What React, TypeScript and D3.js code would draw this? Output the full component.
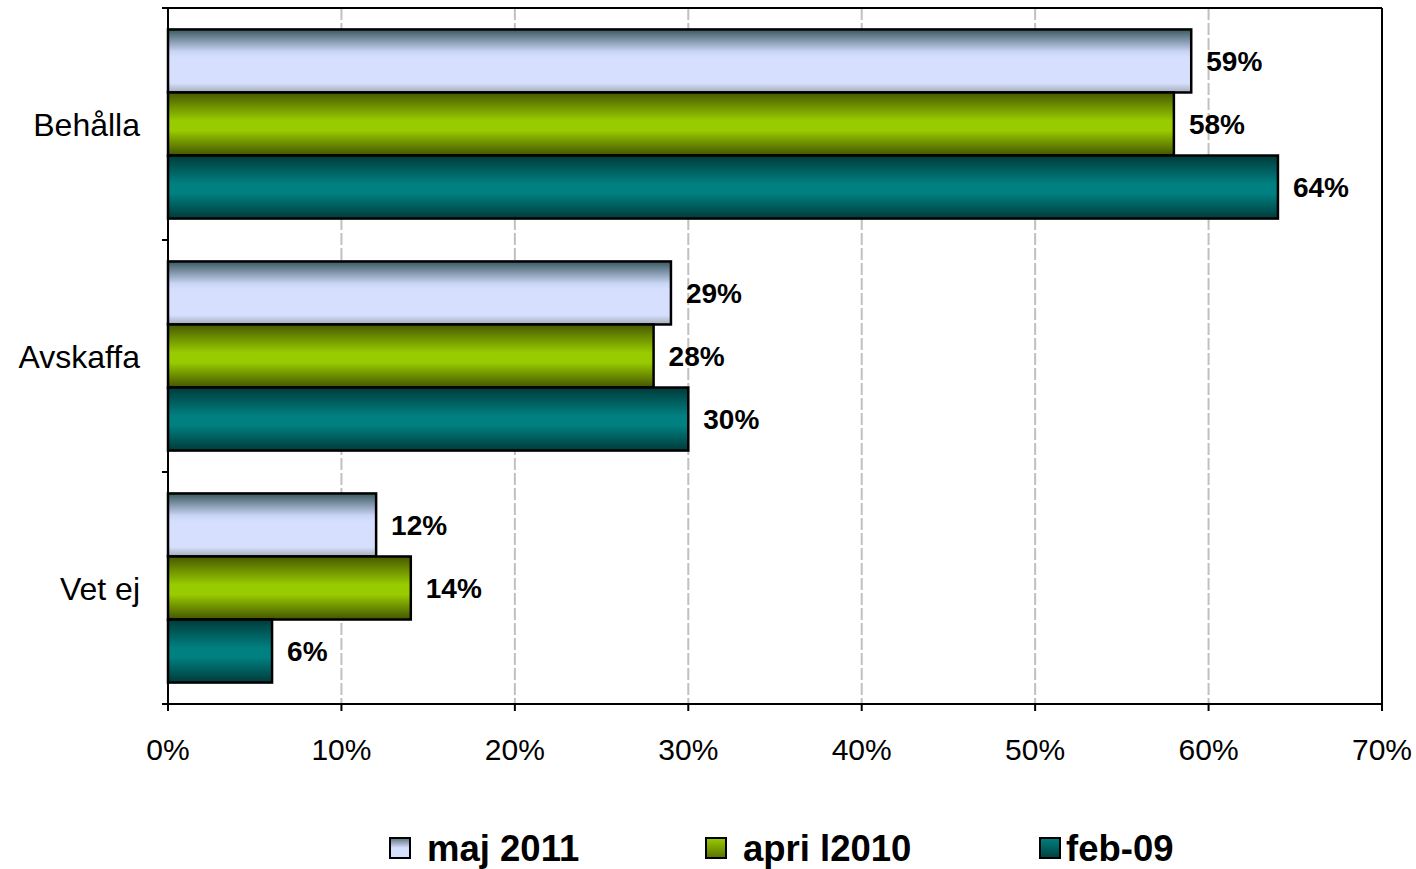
import React from 'react'
import * as d3 from 'd3'

const categories = ['Behålla', 'Avskaffa', 'Vet ej']
const seriesNames = ['maj 2011', 'apri l2010', 'feb-09']
const maj2011 = [59, 29, 12]
const apri2010 = [58, 28, 14]
const feb09 = [64, 30, 6]
const xTicks = [0, 10, 20, 30, 40, 50, 60, 70]

const seriesValues = [maj2011, apri2010, feb09]

const gradients = [
  { id: 'g0', stops: [['0%', '#3a5860'], ['35%', '#c8d4f4'], ['45%', '#d6e0fe'], ['85%', '#d6e0fe'], ['100%', '#a4acb8']] },
  { id: 'g1', stops: [['0%', '#465800'], ['45%', '#99cc00'], ['60%', '#99cc00'], ['100%', '#435400']] },
  { id: 'g2', stops: [['0%', '#003a3a'], ['45%', '#008080'], ['60%', '#008080'], ['100%', '#003a3a']] },
]
const swatchGradients = [
  { id: 's0', stops: [['0%', '#5a7080'], ['50%', '#d6e0fe'], ['100%', '#d6e0fe']] },
  { id: 's1', stops: [['0%', '#99cc00'], ['100%', '#5a7000']] },
  { id: 's2', stops: [['0%', '#008080'], ['100%', '#004040']] },
]

const font = 'Liberation Sans, Arial, sans-serif'

export default function App() {
  const width = 1416
  const height = 869
  const left = 168
  const right = 1382
  const top = 8
  const bottom = 704

  const x = d3.scaleLinear().domain([0, 70]).range([left, right])
  const y = d3.scaleBand().domain(categories).range([top, bottom]).padding(0)
  const inner = d3.scaleBand().domain(seriesNames).range([0, y.bandwidth()]).paddingInner(0).paddingOuter(0.34)

  const legendX = [390, 706, 1040]

  return (
    <div style={{ position: 'absolute', left: 0, top: 0 }}>
      <svg width={width} height={height} style={{ display: 'block', background: '#fff' }}>
        <defs>
          {gradients.concat(swatchGradients).map((g) => (
            <linearGradient key={g.id} id={g.id} x1="0" y1="0" x2="0" y2="1">
              {g.stops.map(([o, c], i) => (
                <stop key={i} offset={o} stopColor={c} />
              ))}
            </linearGradient>
          ))}
        </defs>

        {/* gridlines */}
        {xTicks.slice(1, -1).map((t) => (
          <line key={t} x1={x(t)} x2={x(t)} y1={top} y2={bottom} stroke="#c0c0c0" strokeWidth={2} strokeDasharray="12 3" />
        ))}

        {/* frame */}
        <line x1={left} x2={right} y1={top} y2={top} stroke="#000" strokeWidth={2} />
        <line x1={right} x2={right} y1={top} y2={bottom} stroke="#000" strokeWidth={2} />

        {/* bars */}
        {categories.map((cat, ci) =>
          seriesNames.map((s, si) => {
            const v = seriesValues[si][ci]
            const by = (y(cat) || 0) + (inner(s) || 0)
            const bh = inner.bandwidth()
            return (
              <g key={cat + s}>
                <rect x={x(0)} y={by} width={x(v) - x(0)} height={bh} fill={`url(#g${si})`} stroke="#000" strokeWidth={2.5} />
                <text x={x(v) + 15} y={by + bh / 2} dy="0.36em" fontFamily={font} fontWeight="bold" fontSize={28} fill="#000">
                  {v}%
                </text>
              </g>
            )
          })
        )}

        {/* axes */}
        <line x1={left} x2={left} y1={top} y2={bottom} stroke="#000" strokeWidth={2} />
        <line x1={left - 6} x2={right} y1={bottom} y2={bottom} stroke="#000" strokeWidth={2} />
        {[...categories.map((c) => y(c) || 0), bottom].map((t, i) => (
          <line key={i} x1={left - 6} x2={left} y1={t} y2={t} stroke="#000" strokeWidth={2} />
        ))}
        {xTicks.map((t) => (
          <g key={t}>
            <line x1={x(t)} x2={x(t)} y1={bottom} y2={bottom + 7} stroke="#000" strokeWidth={2} />
            <text x={x(t)} y={bottom + 56} textAnchor="middle" fontFamily={font} fontSize={30} fill="#000">
              {t}%
            </text>
          </g>
        ))}
        {categories.map((c) => (
          <text key={c} x={140} y={(y(c) || 0) + y.bandwidth() / 2} dy="0.36em" textAnchor="end" fontFamily={font} fontSize={32} fill="#000">
            {c}
          </text>
        ))}

        {/* legend */}
        {seriesNames.map((s, i) => (
          <g key={s}>
            <rect x={legendX[i]} y={838} width={20} height={20} fill={`url(#s${i})`} stroke="#000" strokeWidth={2} />
            <text x={legendX[i] + (i === 2 ? 26 : 37)} y={861} fontFamily={font} fontWeight="bold" fontSize={36.5} fill="#000">
              {s}
            </text>
          </g>
        ))}
      </svg>
    </div>
  )
}
